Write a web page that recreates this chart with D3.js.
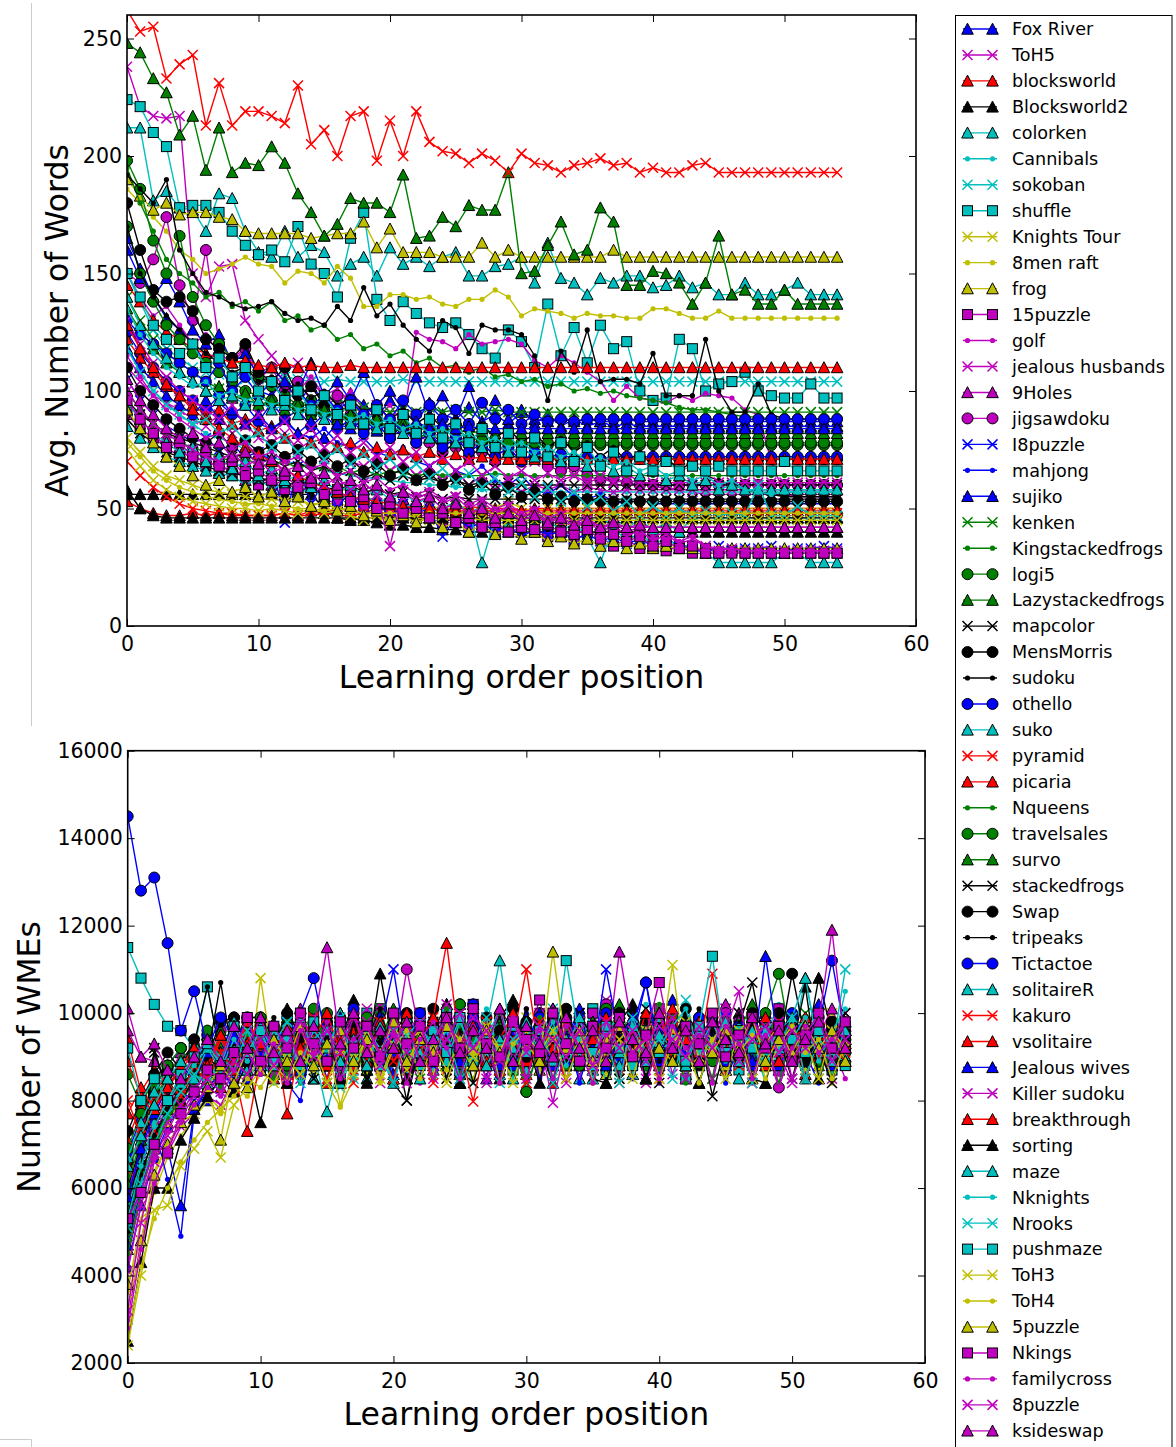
<!DOCTYPE html>
<meta charset="utf-8">
<style>
body { margin: 0; background: #fff; }
text { font-family: "DejaVu Sans", sans-serif; fill: #000; }
.tick text { font-size: 20.5px; }
.tick line { stroke: #000; stroke-width: 1; }
.title { font-size: 31.5px; }
.legend text { font-size: 17.6px; }
.frame { fill: none; stroke: #000; stroke-width: 1.6px; }
.series-line { fill: none; stroke-width: 1.4px; stroke-linejoin: round; }
</style>
<body>
<div id="main"></div>
<script src="https://d3js.org/d3.v7.min.js"></script>
<script>
// series names, in legend order
var seriesNames = ["Fox River","ToH5","blocksworld","Blocksworld2","colorken","Cannibals","sokoban","shuffle","Knights Tour","8men raft","frog","15puzzle","golf","jealous husbands","9Holes","jigsawdoku","I8puzzle","mahjong","sujiko","kenken","Kingstackedfrogs","logi5","Lazystackedfrogs","mapcolor","MensMorris","sudoku","othello","suko","pyramid","picaria","Nqueens","travelsales","survo","stackedfrogs","Swap","tripeaks","Tictactoe","solitaireR","kakuro","vsolitaire","Jealous wives","Killer sudoku","breakthrough","sorting","maze","Nknights","Nrooks","pushmaze","ToH3","ToH4","5puzzle","Nkings","familycross","8puzzle","ksideswap"];

// learning order position of every point
var positions = [0,1,2,3,4,5,6,7,8,9,10,11,12,13,14,15,16,17,18,19,20,21,22,23,24,25,26,27,28,29,30,31,32,33,34,35,36,37,38,39,40,41,42,43,44,45,46,47,48,49,50,51,52,53,54];

var positionTicks = [0,10,20,30,40,50,60];
var wordTicks = [0,50,100,150,200,250];
var wmeTicks = [2000,4000,6000,8000,10000,12000,14000,16000];

// avg. number of words, one row per series (legend order)
var avgWords = [
[165,152,140,131,126,120,112,118,104,110,100,98,105,95,102,96,92,99,94,89,96,91,87,95,90,88,93,87,90,86,91,88,87,89,87,88,87,87,88,87,87,87,87,87,87,87,87,87,87,87,87,87,87,87,87],
[238,221,217,216,217,150,140,153,154,130,122,115,108,112,104,98,101,95,90,94,88,85,82,86,80,78,81,76,74,77,72,70,73,69,66,68,64,62,65,61,60,58,59,57,56,56,56,56,56,56,56,56,56,56,56],
[53,50,48,47,47,48,47,48,47,47,47,47,48,47,49,48,50,49,48,50,49,50,50,50,49,50,51,50,50,50,49,50,50,50,50,50,50,50,50,50,50,50,50,50,50,50,50,50,50,50,50,50,50,50,50],
[56,56,56,56,56,56,56,56,56,56,56,56,56,56,56,50,46,46,45,44,43,43,42,42,41,41,40,40,40,40,40,40,40,40,40,40,40,40,40,40,40,40,40,40,40,40,40,40,40,40,40,40,40,40,40],
[212,212,181,185,178,177,168,184,182,168,159,157,168,157,162,159,149,154,157,149,161,154,157,153,157,159,149,149,153,154,157,146,163,148,146,141,148,146,149,149,144,145,149,144,146,141,141,146,141,141,143,146,141,141,141],
[120,108,100,95,90,86,82,80,78,75,73,72,70,69,68,66,65,64,63,63,62,61,61,60,60,59,59,58,58,58,57,57,57,57,57,57,57,57,57,57,57,57,57,57,57,57,57,57,57,57,57,57,57,57,57],
[150,138,126,118,114,110,108,107,106,105,105,104,106,105,104,104,105,104,104,104,104,105,104,104,104,104,104,104,104,104,104,104,104,104,104,104,104,104,104,104,104,104,104,104,104,104,104,104,104,104,104,104,104,104,104],
[224,221,210,204,178,179,179,176,168,162,158,160,155,170,154,150,140,165,176,139,130,138,133,129,127,129,124,118,114,126,121,110,137,115,127,112,128,118,121,100,96,97,122,118,100,103,104,108,100,98,97,97,103,97,97],
[80,74,68,64,62,60,58,57,56,55,54,54,53,53,52,52,52,51,51,51,50,50,50,52,49,51,50,48,50,53,50,49,50,50,50,50,50,50,50,50,50,50,50,50,50,50,50,50,50,50,50,50,50,50,50],
[186,180,174,168,160,156,150,152,154,157,154,153,146,151,150,146,153,148,136,136,141,141,139,140,137,136,139,139,143,140,132,135,134,133,131,133,132,132,131,131,135,135,133,131,131,134,131,131,131,131,131,131,131,131,131],
[190,183,177,180,175,176,176,174,173,168,167,167,167,167,165,166,167,167,172,161,169,159,159,159,157,157,157,163,157,160,157,157,157,157,157,157,157,160,157,157,157,157,157,157,157,157,157,157,157,157,157,157,157,157,157],
[90,84,80,76,72,74,68,70,64,66,60,62,58,56,60,54,52,56,50,52,48,50,46,48,44,46,42,44,40,43,42,40,38,41,36,40,38,34,37,33,35,32,34,31,33,31,32,31,31,31,31,31,31,31,31],
[150,140,132,136,128,120,124,116,112,118,108,110,104,100,106,98,95,100,92,88,94,86,125,122,121,118,124,120,121,122,120,113,110,115,112,108,104,96,102,97,96,95,98,96,99,98,97,92,90,70,56,55,55,55,55],
[110,104,98,95,92,88,85,90,82,86,80,78,82,75,79,72,76,70,68,73,66,70,64,68,62,66,60,64,58,62,57,60,58,60,57,59,58,57,58,58,58,58,58,58,58,58,58,58,58,58,58,58,58,58,58],
[100,92,86,80,76,70,72,66,68,62,64,60,62,57,60,55,58,53,56,52,50,54,48,52,47,50,46,49,45,48,44,46,43,45,42,44,42,43,42,42,42,42,42,42,42,42,42,42,42,42,42,42,42,42,42],
[150,146,156,174,145,130,160,120,114,118,105,110,100,104,96,92,98,90,86,92,84,88,82,78,84,76,80,74,72,76,70,73,68,66,68,64,62,63,61,60,60,60,60,60,60,60,60,60,60,60,60,60,60,60,60],
[105,96,90,85,82,78,80,75,77,72,74,70,44,68,52,62,50,58,47,55,45,52,48,50,38,46,42,44,40,43,38,41,39,40,37,39,36,38,35,37,34,36,35,33,31,34,32,33,33,34,32,33,33,34,33],
[130,118,110,104,100,96,92,95,90,88,86,84,87,82,80,84,78,76,80,74,72,76,70,68,72,66,64,68,62,60,64,58,56,60,55,54,56,53,52,54,52,52,52,52,52,52,52,52,52,52,52,52,52,52,52],
[160,148,140,148,138,126,120,124,112,116,106,110,104,100,112,98,104,96,108,94,100,92,106,90,98,88,102,86,96,88,92,86,90,85,88,85,87,85,86,85,85,85,85,85,85,85,85,85,85,85,85,85,85,85,85],
[140,130,122,116,112,108,104,101,98,96,95,94,96,93,95,92,94,91,93,92,91,92,91,93,91,92,91,91,92,91,91,91,91,91,91,91,91,91,91,91,91,91,91,91,91,91,91,91,91,91,91,91,91,91,91],
[195,180,168,156,150,146,140,142,136,138,134,138,130,132,126,128,122,124,118,120,115,117,112,114,110,111,108,110,106,107,104,105,102,103,100,101,99,100,98,97,96,95,93,92,92,91,90,89,89,88,88,88,88,88,88],
[198,186,164,150,166,140,128,120,114,110,106,102,98,94,96,90,92,86,88,84,82,85,80,82,78,80,77,79,77,78,77,77,77,77,77,77,77,77,77,77,77,77,77,77,77,77,77,77,77,77,77,77,77,77,77],
[248,244,233,227,209,217,194,212,193,197,196,204,197,184,176,166,171,182,180,180,176,192,165,166,174,170,179,177,177,193,150,151,162,172,158,160,178,172,145,145,151,150,146,137,146,166,141,143,137,137,143,137,137,137,137],
[96,90,86,82,80,78,76,74,72,73,70,71,68,70,66,68,64,66,63,65,62,64,62,63,61,62,60,61,60,61,60,60,60,60,60,60,60,60,60,60,60,60,60,60,60,60,60,60,60,60,60,60,60,60,60],
[180,160,143,138,140,134,122,118,114,120,108,104,110,98,102,94,88,96,84,90,80,86,78,82,74,78,72,76,70,73,71,72,71,71,71,71,71,71,71,71,71,71,71,71,71,71,71,71,71,71,71,71,71,71,71],
[192,186,180,190,160,150,142,140,137,135,136,138,133,130,131,128,136,130,144,132,137,128,122,117,130,127,116,128,126,126,124,115,96,117,108,126,104,105,105,103,116,98,98,98,122,100,91,91,103,90,88,88,88,88,88],
[125,116,110,104,100,96,92,98,90,94,87,95,88,92,85,90,84,88,82,86,80,84,78,82,76,80,74,78,72,76,70,74,72,73,71,72,71,72,72,72,72,72,72,72,72,72,72,72,72,72,72,72,72,72,72],
[85,80,76,72,70,68,66,65,64,60,63,58,61,56,59,54,57,53,56,52,55,50,53,48,51,47,50,27,46,44,48,43,46,40,44,38,27,42,36,40,34,38,33,35,31,27,27,27,27,27,31,31,27,27,27],
[262,253,255,233,239,243,213,231,213,219,219,217,214,230,205,211,200,217,219,198,215,200,219,206,202,201,197,201,198,193,201,197,196,193,196,197,199,196,197,193,195,193,193,196,197,193,193,193,193,193,193,193,193,193,193],
[145,138,130,125,122,118,116,114,112,113,111,110,112,110,111,110,110,111,110,110,110,110,110,110,110,110,110,110,110,110,110,110,110,110,110,110,110,110,110,110,110,110,110,110,110,110,110,110,110,110,110,110,110,110,110],
[100,92,86,82,78,76,74,72,70,71,69,68,70,67,69,66,68,65,67,64,66,65,64,65,64,65,64,64,65,64,64,64,64,64,64,64,64,64,64,64,64,64,64,64,64,64,64,64,64,64,64,64,64,64,64],
[170,150,138,128,122,116,112,108,104,100,98,96,94,92,90,91,88,89,86,87,85,86,84,85,83,84,80,79,78,78,78,78,78,78,78,78,78,78,78,78,78,78,78,78,78,78,78,78,78,78,78,78,78,78,78],
[135,126,118,112,108,104,100,102,97,99,94,96,92,94,90,92,88,90,86,88,84,86,83,85,82,84,82,83,82,82,82,82,82,82,82,82,82,82,82,82,82,82,82,82,82,82,82,82,82,82,82,82,82,82,82],
[88,82,78,74,72,70,68,66,65,64,62,63,61,60,62,59,58,60,57,58,56,57,55,56,54,55,54,54,54,54,54,54,54,54,54,54,54,54,54,54,54,54,54,54,54,54,54,54,54,54,54,54,54,54,54],
[110,100,94,88,84,80,78,82,76,79,74,77,72,75,70,73,68,71,66,69,64,67,62,65,60,63,58,61,56,59,55,57,54,55,53,54,53,53,53,53,53,53,53,53,53,53,53,53,53,53,53,53,53,53,53],
[170,150,140,132,126,120,116,112,108,110,104,106,100,103,97,100,94,97,91,94,88,92,86,90,84,88,82,86,80,84,78,82,76,80,74,78,72,76,70,74,68,72,66,70,64,62,60,58,57,56,55,55,55,55,55],
[130,124,120,116,112,108,104,112,100,106,98,104,96,100,94,98,92,96,90,94,88,96,90,94,88,92,86,95,88,92,86,90,87,88,87,88,88,88,88,88,88,88,88,88,88,88,88,88,88,88,88,88,88,88,88],
[95,88,82,78,74,76,70,72,67,70,64,67,62,64,59,62,57,60,55,58,54,57,52,55,50,53,48,51,47,50,46,49,45,48,44,47,43,46,42,45,41,44,40,46,46,46,46,46,46,46,46,46,46,46,46],
[70,64,59,55,52,50,49,48,48,47,47,47,48,47,47,48,47,47,48,48,48,48,48,48,48,48,48,48,48,48,48,48,48,48,48,48,48,48,48,48,48,48,48,48,48,48,48,48,48,48,48,48,48,48,48],
[122,114,108,102,98,94,90,92,86,88,83,85,80,82,78,80,76,78,74,76,73,75,72,74,71,73,71,72,71,71,71,71,71,71,71,71,71,71,71,71,71,71,71,71,71,71,71,71,71,71,71,71,71,71,71],
[118,110,104,98,94,90,96,88,92,86,90,84,88,82,87,80,86,84,88,83,86,84,87,84,86,84,85,84,84,84,84,84,84,84,84,84,84,84,84,84,84,84,84,84,84,84,84,84,84,84,84,84,84,84,84],
[130,120,112,106,100,96,92,88,94,85,90,82,87,79,84,76,81,74,78,72,76,70,74,68,72,66,70,64,68,63,66,62,65,62,64,61,63,61,62,61,61,61,61,61,61,61,61,61,61,61,61,61,61,61,61],
[128,118,110,103,98,92,88,84,80,76,73,70,66,64,61,59,57,55,54,53,52,51,50,50,49,49,49,49,49,49,49,49,49,49,49,49,49,49,49,49,49,49,49,49,49,49,49,49,49,49,49,49,49,49,49],
[58,50,47,46,46,46,46,46,46,46,46,46,46,46,46,46,46,45,46,46,46,46,46,46,46,46,46,46,46,46,46,46,46,46,46,46,46,46,46,46,46,46,46,46,46,46,46,46,46,46,46,46,46,46,46],
[140,128,120,114,108,104,100,96,98,94,96,92,94,90,92,88,90,86,88,84,86,82,84,80,82,78,80,76,78,74,76,72,74,70,72,68,70,66,68,64,66,62,64,60,62,58,60,58,58,58,58,58,58,58,58],
[135,124,116,110,106,102,104,98,100,96,98,94,96,92,94,90,92,88,90,86,88,84,86,82,84,80,82,78,80,76,78,74,76,72,74,70,72,68,70,66,68,64,66,62,64,60,62,58,57,56,57,57,57,57,57],
[118,108,100,94,90,86,88,82,85,79,82,76,80,74,77,71,75,69,73,67,71,65,69,63,67,61,65,59,63,57,61,55,59,53,57,51,55,49,53,47,51,47,50,47,49,47,48,47,60,47,47,51,47,47,47],
[150,140,128,122,116,120,110,114,106,110,100,104,96,100,92,98,90,94,86,92,84,90,82,88,80,86,78,84,76,82,74,80,72,78,70,76,68,74,66,72,66,70,66,68,66,68,66,66,66,66,70,66,66,66,66],
[75,68,62,58,55,53,52,51,50,50,49,50,49,48,50,48,49,47,45,47,44,48,46,45,47,44,46,45,45,45,45,45,45,45,45,45,45,45,45,45,45,45,45,45,45,45,45,45,45,45,45,45,45,45,45],
[78,72,66,62,59,57,55,54,53,52,52,51,51,50,50,49,50,49,48,48,48,48,48,48,48,48,48,48,48,48,48,48,48,48,48,48,48,48,48,48,48,48,48,48,48,48,48,48,48,48,48,48,48,48,48],
[92,84,78,72,68,64,60,62,57,59,55,57,53,55,51,53,49,51,47,49,45,47,44,46,42,44,40,43,39,41,37,40,36,38,35,37,34,36,33,35,33,34,33,33,33,33,33,33,33,33,33,33,33,33,33],
[96,88,82,76,78,72,74,68,70,64,66,62,64,59,61,56,58,53,55,50,52,48,50,46,48,44,46,42,44,40,42,41,43,40,39,41,37,39,36,38,34,36,33,34,31,31,31,31,31,31,31,31,31,31,31],
[115,106,98,92,88,84,80,82,76,78,72,74,70,72,67,69,64,66,61,63,58,60,56,58,54,56,52,54,50,52,48,50,46,48,44,46,42,44,40,42,38,40,36,38,34,33,33,32,32,32,32,32,32,32,32],
[100,92,86,82,78,75,72,70,74,68,71,65,68,62,66,60,63,58,61,56,34,58,54,57,52,55,50,53,48,51,46,49,44,47,42,45,40,43,38,41,36,39,35,37,34,32,33,32,32,32,32,32,32,32,32],
[105,96,90,84,80,82,76,78,72,74,69,71,66,68,63,65,60,62,58,60,55,57,53,55,50,52,48,50,46,48,45,47,44,46,43,45,42,44,42,43,42,42,42,42,42,42,42,42,42,42,42,42,42,42,42]
];

// number of WMEs, one row per series (legend order)
var wmeCounts = [
[4200,5600,6700,7400,7900,8200,8000,8600,8400,9000,8700,9300,8600,9800,8900,9500,8400,9200,10000,8800,9400,8500,9700,9100,10200,8700,9300,8500,9900,9000,8600,9600,8800,9400,10100,8700,9200,9800,8600,9500,9000,10300,8800,9300,9700,8700,9400,9000,9900,8800,9500,9100,10200,8900,9400],
[3000,4800,6100,6800,7400,7700,8100,7900,8500,8300,8900,8600,9400,8500,9700,9100,8400,10000,9200,8400,9800,9000,8600,9500,10100,8500,9300,8500,9800,9100,8400,10000,9300,8400,9600,9100,10200,8700,9400,8500,9800,8600,9500,9200,8500,10100,9300,8700,9600,9100,8400,9700,9200,8500,9500],
[9400,8200,8700,7700,8000,8500,8900,8300,9200,8700,9400,8500,9800,8900,9300,8400,10000,9100,8700,9600,8500,9300,9900,8800,9400,8600,10200,9000,8700,9500,8900,9800,8400,9300,9700,8800,9200,10000,8600,9400,9000,9600,8500,9300,9800,8700,9100,9600,8800,9400,9900,8600,9200,9700,9000],
[5500,7000,7800,8400,8900,8500,9200,8800,9700,9100,9900,9200,10100,9400,8900,9700,9300,10300,9000,10900,9200,9800,8900,9600,10200,9100,9500,8800,9900,10300,9000,9600,9200,10000,8900,9500,9100,9800,10200,9300,8900,9700,9400,8800,9600,9200,10000,9400,8900,9800,9300,9100,10800,9500,9700],
[6200,7300,8100,7800,8600,9000,8400,9300,8800,9700,8700,9400,8600,9900,9100,7750,8900,9600,8500,9400,10000,9000,9500,8700,9800,8400,9200,9700,11200,9100,8700,9600,9000,9500,8500,9300,10000,8800,9100,9700,9000,9400,8600,9900,9200,8800,9500,9000,9700,8700,9300,10800,9100,8800,9500],
[4800,6200,7000,7600,8000,8400,8800,8500,9100,8400,9000,8400,9600,8600,9400,9000,9900,8500,9200,9700,8500,9400,10000,9000,9500,8600,9300,10100,9000,9600,8400,9800,9100,10000,8500,9400,8600,9700,9200,10200,8400,9500,9000,9800,9300,8500,9900,9100,9500,10200,9000,9400,9800,9100,10500],
[5600,6600,7200,7900,7600,8300,8700,8200,9000,8500,9300,9000,8500,9800,8800,9400,8300,9100,9900,8800,9600,9000,9900,8600,9300,9000,8400,9900,8800,9600,9100,9400,10100,8500,9200,9800,8900,9500,8600,9300,10000,9000,10300,9100,9600,8800,9800,9000,9400,10000,8900,9500,9100,8900,9700],
[11500,10800,10200,9700,9600,9200,10600,9000,8800,9600,8700,9300,8600,9800,9000,9700,8500,9200,10000,8900,9500,8700,9800,9100,10000,8600,9300,8900,9900,8700,9500,9000,9800,8900,9300,10100,8700,9500,9000,9800,8800,9400,8500,9700,9100,9900,8700,9500,9200,8800,9700,9100,9500,8700,9200],
[3600,5300,6400,7000,7500,7700,8100,7800,8500,8300,10800,8800,8400,9200,8700,9600,8400,9100,9700,8600,9300,9900,8800,9500,8500,9100,9800,8900,9300,8500,9900,9100,8700,9500,8900,9300,10000,8700,9100,9700,9000,11100,8700,9300,9800,9000,9500,8600,9300,9900,9100,8700,9500,10000,9000],
[3300,4600,5900,6700,7200,7600,8000,7700,8300,8100,8600,8500,9100,8600,9300,8400,7850,8500,9200,8600,9500,8400,9300,8600,9700,9000,8500,9500,8400,9800,9100,8600,9300,9000,9700,8700,9300,9900,8500,9500,8600,9100,9700,8400,9500,8500,9300,9800,8700,9600,9100,8500,9500,8400,9300],
[4600,5900,6900,7500,8000,7800,8400,7100,8800,8300,9300,8600,9200,9800,8500,9500,8900,10000,8700,9300,8500,9700,9100,9600,8800,10000,8900,9300,8600,9700,9100,8700,10100,9300,8900,9700,8600,9500,9100,9900,8800,9300,8900,9700,9400,8800,9300,10000,8900,9600,9100,9500,8800,9300,9800],
[5300,6500,7400,7900,8400,8800,8300,9100,8700,9600,9000,8600,9700,9000,10000,9300,8800,9800,9100,10100,8900,9500,10000,9100,9600,8800,10200,9300,8900,9700,9400,10300,9000,9600,8900,10000,9300,8800,9700,9400,10100,9100,9600,8900,9900,9300,9800,8800,9400,10100,9100,9600,9300,8900,9700],
[4400,5800,6700,7300,7900,8300,8100,8700,8400,9200,8600,9100,9700,8500,9300,8400,9900,9000,9500,8500,10000,9100,8400,9600,9300,8500,9800,9000,9500,9100,10100,8400,9300,9700,8500,10000,9100,8600,9500,9800,8400,9300,9600,9000,9500,9100,10000,8400,9300,8600,9600,9000,9800,9300,8500],
[5800,6800,7600,8200,7900,8600,9000,8500,9300,8900,9700,8800,9300,9900,9000,9600,8600,9400,10100,9100,9600,8800,9800,9200,10200,9000,9400,9900,8800,9600,9100,10000,9300,8900,9700,9400,10300,9100,9500,8800,9900,9300,9700,9000,9400,10100,9100,9600,8800,9900,9300,9700,9000,9400,10000],
[9600,9000,8900,8500,9100,8700,9500,9000,9900,9300,8800,9700,9200,10100,8900,9600,9100,9900,9400,8800,9700,9200,10000,9100,9600,10200,9200,9700,8900,9900,9400,9000,10100,9500,9100,9800,8900,11400,9600,9100,9500,10000,9200,9700,9400,10200,9100,9500,9900,9200,9700,8900,9500,10100,9300],
[5900,6900,7300,7800,8200,8600,9000,9600,8800,9400,8900,9500,9100,8600,9700,9200,9900,8800,9400,10000,9100,11000,9500,8900,9400,9900,9100,9600,8800,9700,9200,10000,8900,9400,9700,9100,10200,9200,9500,8900,9800,9400,9000,9700,9200,10000,8900,9500,9200,8300,9700,9400,9900,9100,9500],
[5000,6300,7200,7700,8200,8000,8600,9000,8500,9300,8800,9400,8500,9100,9700,8900,9400,8600,9300,9600,11000,9100,9700,8800,9300,9900,9000,9400,8600,9600,9100,9700,8800,9300,10000,9000,11000,9400,9100,9600,8800,9700,9300,9000,9400,9900,9100,9500,8800,9300,9800,9000,9400,9100,9600],
[5200,6500,7400,6200,4900,7700,8300,8800,8200,9100,8600,9300,8400,8000,9500,8500,9600,8600,9300,9800,8400,9500,9000,9600,8500,9300,9800,9100,8400,9400,10000,8500,9300,9600,8400,9500,9100,9800,8500,9300,8600,9600,9100,9400,9800,8400,9300,9600,9000,9400,9900,9100,8400,9600,9200],
[4700,6000,7000,6900,5600,7800,8300,8600,9100,8500,9300,8800,9700,8700,9200,9800,9000,9500,8800,10000,8600,9300,9700,9000,9500,8600,9800,9100,8800,9600,9300,10000,8900,9500,8800,9800,9300,8900,9600,8500,9200,9500,8800,9800,9300,8900,9600,9100,10000,8800,9400,9100,9700,8900,9300],
[4900,6100,7100,7700,8100,8600,8400,9000,8600,9400,8900,9300,8600,9700,9100,8400,9800,9000,9500,10100,9100,9600,8500,9300,9900,8400,9400,9100,9800,8500,9600,9300,8400,9800,9100,9400,10100,8500,9300,9600,8700,9900,9100,9400,8500,9800,9300,8700,9600,9100,9400,10000,8500,9300,9600],
[6300,7300,8000,8600,9000,8500,9400,8900,9200,9800,8800,9400,9100,9900,8900,9600,8600,9300,9800,9100,9500,8800,9600,9200,10100,8900,9400,9100,9800,8800,9600,9200,10000,9100,9400,8800,9800,9200,8900,9600,10200,9100,9400,8800,9600,9200,9800,8900,9400,10000,9100,9600,8800,9300,9800],
[8600,7900,8500,8800,9200,8700,9500,8900,9400,9900,9100,9600,8800,9400,10100,9200,9700,8900,9600,9100,9900,9400,8900,9700,9200,10200,9000,9500,8800,9400,8200,9300,9900,8900,9600,9200,10100,9100,9700,8800,9400,9900,9200,9600,8900,9800,9400,9000,10000,10900,9200,9600,8900,9700,9400],
[5100,6400,7100,7800,8300,8700,8500,9200,8800,9600,9100,9400,8900,9800,9200,8800,9600,9100,9900,8900,9400,9800,9100,9600,8800,9400,10100,9200,9700,8900,9600,9100,10000,8800,9400,9800,9100,10200,9200,9600,8900,9900,9400,9000,9700,9200,9600,10200,8900,9400,9900,9100,9600,9200,9800],
[5700,6700,9200,8100,8500,8900,9300,8600,9200,9800,8800,9400,9000,10000,8900,9600,9200,8700,9800,9100,9400,8000,9600,8900,9400,10000,9100,9600,8800,9800,9200,8900,9600,9100,10000,9400,8800,9600,9200,10100,8900,9400,9800,9100,9600,9200,10000,8900,9400,9800,9100,8800,9600,9200,10000],
[6600,7500,8200,8700,8400,9000,9400,8800,9300,9900,9900,9200,9700,9000,9600,8800,9400,10000,9100,9600,8900,9800,9200,10100,8900,9500,9200,9900,8800,9400,9800,9100,9600,10100,9200,9700,8900,9400,10000,9100,9600,9200,10100,8900,9800,9400,9100,10000,9600,9200,10900,9400,9100,9800,9300],
[6000,7000,7800,8400,8900,9300,10600,9000,9600,8800,9400,9900,9100,9600,9200,8800,9800,9100,9400,10100,8900,9600,9200,9900,8800,9400,9800,9100,9600,9200,10100,8900,9400,9800,9100,9600,8800,10000,9200,9600,8900,9800,9400,10100,9100,9600,9200,9800,8900,9400,10000,9200,9600,8800,9400],
[6800,7600,8300,8800,9200,8700,9500,9000,9900,9200,9500,9100,9900,9400,8900,9700,9200,10100,8800,9600,9100,9900,9400,8900,9700,9200,10200,9100,9600,8800,9400,9900,9200,9800,8900,9600,10000,9100,9400,10700,8900,9600,9200,9900,9100,9700,9400,8800,9600,9200,9900,8900,9400,9800,9100],
[5500,6600,7500,8000,8500,8200,8800,8600,9200,8700,9500,9100,8400,9400,8500,9700,8400,9200,9600,9000,8400,9400,8500,9700,9200,8400,9600,9100,9900,8500,9300,9800,9000,9400,9100,9600,8400,9300,9900,8500,9400,9100,9800,8400,9300,9600,8500,9400,8400,9700,9200,8500,9600,9100,9400],
[6400,7300,8100,8700,8400,9000,8600,9400,8900,9800,9100,9600,8900,9400,9900,9000,9600,8700,9300,9800,8900,9400,9100,9900,8700,9600,9200,9800,8900,9400,11000,9000,9600,9200,8900,9700,9400,8800,9600,9100,9900,9200,8900,9600,9100,9800,8800,9400,9200,9900,8900,9600,9100,9400,8800],
[7100,7900,7300,8300,8000,8700,8500,9100,8700,7300,9000,9600,7700,9400,8900,9800,9200,8800,9600,9100,9900,8900,9400,9800,9100,9600,8800,9400,10000,9200,8900,9700,9400,9000,9600,8800,9900,9200,9700,8900,9400,10100,9100,9600,9200,8900,9700,9400,8800,9600,9200,9900,9000,9600,8900],
[4500,5900,6900,7600,8000,8400,8800,8300,9000,8600,9400,8500,9800,8400,9300,9600,8500,9500,8400,9300,9900,9100,9600,8500,9400,8600,9800,9200,8400,9600,9100,9900,8500,9300,9800,8400,9400,9100,9700,8500,9900,9300,8400,9600,9100,9400,9800,8500,9300,8400,9600,9100,9900,8500,9400],
[6900,7700,8300,8800,9200,8700,9600,9000,9500,8900,9900,9300,8800,9600,9100,10000,8900,9400,9900,9200,9600,8800,9400,9800,9100,10200,9200,9600,8900,9800,8200,9400,9000,9700,8800,9500,9200,10000,8900,9400,9700,9100,9600,9200,9900,8900,9400,9800,9100,9600,9200,8900,9700,9400,9100],
[6100,7100,7900,8500,8800,9200,8700,9600,9000,9500,8900,9400,9900,9100,9600,8800,9300,9800,9000,9400,10100,9100,9600,9200,8800,9700,9100,9400,9900,8900,9600,9200,9800,8800,9400,9100,9600,10000,8900,9400,9200,9700,8800,9600,9100,9900,9300,8900,9600,9400,9800,9100,9400,8900,9600],
[5400,6500,9100,8300,8000,8500,9000,8700,9300,8900,9700,9100,8400,9400,8500,9600,9100,9900,8500,9400,8400,8000,9300,9800,8500,9600,8400,9400,9900,9100,9600,9200,8400,9400,9800,9100,9600,8500,9300,9900,8400,9400,9100,9600,8100,9300,9700,10700,9100,9400,8500,9600,9200,8400,9700],
[7300,8000,8600,9100,8700,9400,9000,9800,9900,9300,9700,9200,10000,9500,9000,9800,9300,8900,9700,9200,9500,10000,9100,9700,9400,8900,9900,9200,9600,10100,9000,9700,9300,9900,8900,9600,9200,10000,9100,9400,9800,8900,9600,9200,9900,9400,9000,9700,9200,10000,9500,8900,9400,9800,9200],
[5000,6300,7200,7800,8300,8700,9000,10700,8800,9400,8900,9600,9100,8800,9700,9200,9900,8900,9400,9100,9700,8800,9300,9600,8900,10000,9100,9400,8800,9700,9200,9600,8900,9900,9100,9400,8800,9600,9200,9800,8900,9400,10000,9100,9600,9200,8800,9700,9400,9100,9900,9200,8900,9600,9400],
[14500,12800,13100,11600,9600,10500,9200,9900,9400,9800,9000,9700,9200,10000,10800,9300,9800,9000,9600,8900,9700,9300,10000,9200,9600,8900,9900,9400,9100,9700,9200,9600,8800,9400,9900,9100,9600,8900,9700,10700,9200,9600,9100,9900,9400,8900,9700,9200,9600,9100,10000,9400,9700,11200,9500],
[6700,7500,8200,8700,8400,9000,9400,8900,9800,9200,8800,9600,9100,9800,8900,9400,10000,9100,9600,8800,9300,9900,9100,9600,8900,9400,9800,9100,10100,9200,9600,8900,9800,9400,9100,9700,9200,8800,9600,9100,9900,9200,9600,8900,9400,9800,9100,9600,9200,9700,8900,9400,9200,9600,9000],
[8000,7200,7900,8400,8100,8800,8400,9100,8700,9400,8900,9300,8400,9600,9100,8500,9500,8400,9700,9100,8500,9600,9300,8400,9700,9200,7980,9400,8500,9600,8400,9800,9200,8500,9400,9100,9700,8400,9600,9200,8500,9400,9700,9100,10900,9200,9600,8400,9400,9100,9700,8500,9300,9600,9100],
[8900,8100,7700,8300,8700,9100,8800,9500,9100,9800,9300,8900,9700,9200,9600,8800,9400,9900,9100,9600,9200,10000,8900,9400,9800,9100,9600,9200,8800,9700,9400,9100,9900,9200,9600,8900,9400,9800,9100,10000,9200,9600,8900,9400,9800,9100,9600,9200,9900,8900,9400,9700,9100,9600,9200],
[5800,6900,7700,8300,8800,8500,9100,8800,9500,9000,9700,8900,9400,8800,9600,9100,9900,8900,9400,9200,9800,8800,9400,9100,9600,8900,9900,9200,8800,9600,9100,9400,9800,8900,9600,9200,8800,9400,9900,9100,9600,9200,8900,9800,9400,9100,9600,8900,11300,9200,9700,9100,9400,8800,9600],
[4100,5600,6800,7500,7900,8300,8100,8700,8400,9100,8700,9300,8400,9700,9000,9500,8500,9300,9800,9000,9500,8400,9600,8500,9400,9100,9900,8400,9300,9700,8500,9400,7950,9300,9800,8500,9500,9100,9700,8400,9300,9900,8500,9500,9100,9600,10500,8400,9400,9800,8500,9300,9700,9100,9400],
[7700,8300,7800,8300,8800,9200,8600,9500,8900,9300,9900,9100,9700,8800,9400,10000,9100,9600,8900,9800,9200,8800,9400,9900,11600,9200,9700,8900,9400,10000,9100,9600,9200,9800,8900,9400,9900,9100,9600,9200,10000,8900,9400,9800,9100,9600,9200,9900,8900,9400,9700,9100,9600,9200,8900],
[2500,4300,6000,6000,7100,7600,8100,8500,8200,8900,7500,9100,8400,9600,9000,9500,8500,9800,8400,9300,9900,8500,9400,9100,9800,8400,9600,9200,8500,9700,9400,8400,9900,9000,9600,8500,8400,9400,9700,8500,9500,9200,9900,8400,9400,9100,9700,8500,8400,9600,9200,10600,8500,9700,9400],
[6500,7200,7900,8500,8900,8500,9200,8900,9700,9100,9600,8800,9300,9900,9100,9600,8900,9400,8800,9700,9200,9600,8900,9400,9900,9100,9600,8800,9400,9200,9800,8900,9600,9200,9900,8800,9400,9100,9700,8900,9500,9200,8800,9600,9300,9800,8900,9400,9100,9600,9900,10800,9200,8900,9600],
[5300,6500,7400,8000,8400,8800,9200,8700,9400,8900,9700,9100,9500,8800,9600,9200,9900,8900,9400,9100,9800,8800,9300,9600,8900,9800,9100,9400,10100,8900,9600,9200,9800,8800,9400,9100,9600,9900,8900,9400,9200,9700,10100,9100,9400,8900,9700,9200,9600,9100,9400,9900,8900,9600,10100],
[5100,6100,7000,7700,8200,8600,8400,9000,8700,9600,8900,9300,9800,8400,9400,9100,9900,8500,9600,9200,8400,9500,9800,9100,9600,8500,9300,9900,8400,9400,9100,9700,8400,9300,9600,8500,9400,8400,9900,9100,9400,8500,9600,9200,9800,9100,9400,8400,9600,9200,9900,8500,9400,9100,11000],
[9200,8000,8500,8000,8600,9000,9300,8800,9700,9100,9600,8900,9400,8800,9800,9200,9600,8900,9400,9100,9700,9200,8800,9600,9100,9900,8900,9400,9200,9700,9100,9600,8900,11200,9400,9100,9700,9200,8800,9600,9100,9400,8900,9700,11300,9100,9600,9200,8900,9700,9400,9100,9600,9200,8800],
[2400,4000,5500,5600,6500,6900,7300,6700,7900,8300,8700,8400,9000,8600,9300,8400,9200,8600,9500,8500,9300,8700,9600,9100,8400,9400,9000,9700,9200,8400,9400,9100,9600,8500,9300,9700,9000,9400,8500,9600,8500,9300,9800,9000,9400,8500,9600,8500,9300,9700,9000,9400,8500,9600,9200],
[2600,4200,5300,6000,6600,7100,7500,7800,8100,8500,8300,8800,8500,9100,8700,9300,7900,9000,9500,8400,9200,9600,8500,9300,8700,9400,9100,9700,8400,9300,9600,9000,9400,9100,9600,8400,9300,9800,9000,9400,8500,9600,9200,8400,9400,9700,9100,9500,8500,9300,9700,9100,9400,8500,9300],
[3800,4800,6300,7000,7500,7900,8300,8800,8400,9200,8700,9400,8900,9700,8800,9300,9600,8900,9400,9100,9800,8900,9400,9100,9700,9200,8800,9600,9100,9800,9300,8900,11400,9200,9600,8900,9400,9700,9100,9600,9200,8900,9700,9300,9100,9600,9200,9900,8900,9400,9100,9700,9200,9600,8900],
[5300,5900,7000,6800,7700,8200,8700,8500,9100,9900,8900,9700,9200,10000,9300,8900,9800,9200,9700,9000,10000,9300,9700,8900,9900,9200,10100,9300,9000,9800,9400,9100,10000,9300,8900,9700,9200,9900,9000,9500,10700,9200,9700,9300,10000,9000,9500,9900,9200,9700,8900,9500,10000,9200,9800],
[2800,4600,6100,6900,7500,7900,8300,8100,8700,9100,8600,9300,8400,9600,9100,9800,8500,9400,9700,9100,9500,8400,9400,9800,9200,8500,9700,9300,8400,9900,9200,9600,8500,9700,9200,8400,9500,9800,9100,9400,8500,9700,9200,9500,8400,9700,9300,8500,9500,8300,9200,9700,9100,9400,9800],
[3200,5200,6600,7200,7600,8100,8500,8200,8900,8600,9400,8800,9300,9800,9000,9600,9100,9900,9200,8800,9600,9100,9800,8900,9400,10000,9200,9600,8900,9800,9100,9700,9400,9000,9600,8800,9800,9200,9600,8900,9700,9400,9000,9700,9200,10000,8900,9400,9700,9100,9600,9200,9900,8900,9400],
[10100,9000,9300,8700,8500,9000,9400,8900,9700,9200,9900,9100,9600,8900,9700,11500,9300,10000,9100,9600,9200,9800,8900,9400,9900,9100,9600,9200,10100,8900,9700,9300,9000,9900,9200,9600,8900,9800,9400,9100,10000,9200,9600,8900,9800,9400,9100,9900,9300,9600,8900,9400,9800,11900,9200]
];

// matplotlib-style colour letter and marker per series
var colorCodes = "b m r k c c c c y y y m m m m m b b b g g g g k k k b c r r g g g k k k b c r r b m r k c c c c y y y m m m m".split(" ");
var markerCodes = "^ x ^ ^ ^ . x s x . ^ s . x ^ o x . ^ x . o ^ x o . o ^ x ^ . o ^ x o . o ^ x ^ ^ x ^ ^ ^ . x s x . ^ s . x ^".split(" ");
var palette = {b: "#0000ff", g: "#008000", r: "#ff0000", c: "#00bfbf", m: "#bf00bf", y: "#bfbf00", k: "#000000"};

var svg = d3.select("#main").append("svg")
	.attr("width", 1176)
	.attr("height", 1447);

// faint page-edge lines that appear in the scan
svg.append("line").attr("x1", 31.5).attr("x2", 31.5).attr("y1", 3).attr("y2", 726).attr("stroke", "#cccccc");
svg.append("line").attr("x1", 0).attr("x2", 31.5).attr("y1", 1439.5).attr("y2", 1439.5).attr("stroke", "#cccccc");
svg.append("line").attr("x1", 31.5).attr("x2", 31.5).attr("y1", 1439.5).attr("y2", 1447).attr("stroke", "#cccccc");

// draws one marker at (0,0)
function addMarker(sel, kind, col) {
	if (kind === "^") {
		sel.append("path").attr("d", "M0,-5.8L5.8,5.2L-5.8,5.2Z")
			.attr("fill", col).attr("stroke", "#000").attr("stroke-width", 1);
	} else if (kind === "s") {
		sel.append("rect").attr("x", -5).attr("y", -5).attr("width", 10).attr("height", 10)
			.attr("fill", col).attr("stroke", "#000").attr("stroke-width", 1);
	} else if (kind === "o") {
		sel.append("circle").attr("r", 5.5)
			.attr("fill", col).attr("stroke", "#000").attr("stroke-width", 1);
	} else if (kind === ".") {
		sel.append("circle").attr("r", 2.6).attr("fill", col);
	} else {
		sel.append("path").attr("d", "M-5,-5L5,5M-5,5L5,-5")
			.attr("fill", "none").attr("stroke", col).attr("stroke-width", 1.5);
	}
}

function drawPanel(cfg) {
	var x = d3.scaleLinear().domain([0, 60]).range([cfg.left, cfg.right]);
	var y = d3.scaleLinear().domain(cfg.yDomain).range([cfg.bottom, cfg.top]);

	svg.append("clipPath").attr("id", cfg.id)
		.append("rect")
		.attr("x", cfg.left).attr("y", cfg.top)
		.attr("width", cfg.right - cfg.left).attr("height", cfg.bottom - cfg.top);

	var plot = svg.append("g").attr("clip-path", "url(#" + cfg.id + ")");
	var line = d3.line()
		.x(function(d, j) { return x(positions[j]); })
		.y(function(d) { return y(d); });

	cfg.data.forEach(function(values, i) {
		var col = palette[colorCodes[i]];
		var g = plot.append("g");
		g.append("path").datum(values)
			.attr("class", "series-line")
			.attr("stroke", col)
			.attr("d", line);
		g.selectAll("g.pt").data(values).enter().append("g")
			.attr("class", "pt")
			.attr("transform", function(d, j) { return "translate(" + x(positions[j]) + "," + y(d) + ")"; })
			.each(function() { addMarker(d3.select(this), markerCodes[i], col); });
	});

	// axes, ticks pointing inwards on all four sides
	var bottomAxis = svg.append("g").attr("transform", "translate(0," + cfg.bottom + ")")
		.call(d3.axisBottom(x).tickValues(positionTicks).tickSize(-7).tickPadding(10).tickFormat(d3.format("d")));
	var leftAxis = svg.append("g").attr("transform", "translate(" + cfg.left + ",0)")
		.call(d3.axisLeft(y).tickValues(cfg.yTicks).tickSize(-7).tickPadding(5).tickFormat(d3.format("d")));
	var topAxis = svg.append("g").attr("transform", "translate(0," + cfg.top + ")")
		.call(d3.axisTop(x).tickValues(positionTicks).tickSize(-7).tickFormat(""));
	var rightAxis = svg.append("g").attr("transform", "translate(" + cfg.right + ",0)")
		.call(d3.axisRight(y).tickValues(cfg.yTicks).tickSize(-7).tickFormat(""));
	[bottomAxis, leftAxis, topAxis, rightAxis].forEach(function(a) {
		a.select(".domain").remove();
		a.selectAll("text").attr("font-family", null).attr("font-size", null);
	});

	svg.append("rect").attr("class", "frame")
		.attr("x", cfg.left).attr("y", cfg.top)
		.attr("width", cfg.right - cfg.left).attr("height", cfg.bottom - cfg.top);

	svg.append("text").attr("class", "title")
		.attr("x", (cfg.left + cfg.right) / 2).attr("y", cfg.xTitleY)
		.attr("text-anchor", "middle")
		.text("Learning order position");

	svg.append("text").attr("class", "title")
		.attr("transform", "translate(" + cfg.yTitleX + "," + ((cfg.top + cfg.bottom) / 2) + ") rotate(-90)")
		.attr("text-anchor", "middle")
		.text(cfg.yTitle);
}

drawPanel({
	id: "clip-words", data: avgWords,
	left: 127, right: 916, top: 15, bottom: 626,
	yDomain: [0, 260], yTicks: wordTicks,
	yTitle: "Avg. Number of Words", yTitleX: 68, xTitleY: 688
});

drawPanel({
	id: "clip-wmes", data: wmeCounts,
	left: 127.7, right: 925, top: 750.7, bottom: 1363,
	yDomain: [2000, 16000], yTicks: wmeTicks,
	yTitle: "Number of WMEs", yTitleX: 40, xTitleY: 1425
});

// legend
var legend = svg.append("g").attr("class", "legend");
legend.append("rect")
	.attr("x", 955.5).attr("y", 15.5).attr("width", 216.5).attr("height", 1450)
	.attr("fill", "#fff").attr("stroke", "#000").attr("stroke-width", 1);

var item = legend.selectAll("g.item").data(seriesNames).enter().append("g")
	.attr("class", "item")
	.attr("transform", function(d, i) { return "translate(0," + (29 + i * 25.96) + ")"; });

item.each(function(name, i) {
	var g = d3.select(this), col = palette[colorCodes[i]];
	g.append("line").attr("x1", 963).attr("x2", 997).attr("y1", 0).attr("y2", 0)
		.attr("stroke", col).attr("stroke-width", 1.4);
	[967.5, 992.5].forEach(function(mx) {
		addMarker(g.append("g").attr("transform", "translate(" + mx + ",0)"), markerCodes[i], col);
	});
	g.append("text").attr("x", 1012).attr("y", 0).attr("dy", "0.36em").text(name);
});
</script>
</body>
